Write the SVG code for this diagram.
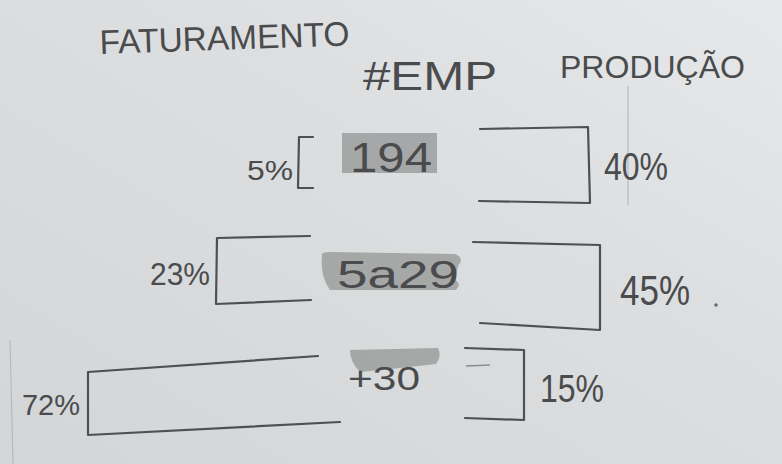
<svg xmlns="http://www.w3.org/2000/svg" width="782" height="464" viewBox="0 0 782 464">
<defs>
<linearGradient id="paper" x1="0" y1="1" x2="1" y2="0">
<stop offset="0" stop-color="#d3d5d7"/>
<stop offset="0.6" stop-color="#dcdee0"/>
<stop offset="1" stop-color="#e6e8ea"/>
</linearGradient>
<style>
.t{font-family:"Liberation Sans","DejaVu Sans",sans-serif;fill:#4a4b4c;}
.p{fill:none;stroke:#4f5052;stroke-width:2.2;stroke-linecap:round;stroke-linejoin:round;}
.f{fill:none;stroke:#b8babc;stroke-width:1.2;}
.hl{fill:#9c9e9e;opacity:0.85;}
</style>
</defs>
<rect width="782" height="464" fill="url(#paper)"/>
<line class="f" x1="628" y1="86" x2="628" y2="205"/>
<line class="f" x1="10" y1="340" x2="13" y2="464"/>

<g id="headers">
<text class="t" x="100" y="54" font-size="34" textLength="250" lengthAdjust="spacingAndGlyphs" transform="rotate(-2 100 54)">FATURAMENTO</text>
<text class="t" x="363" y="90" font-size="40" textLength="134" lengthAdjust="spacingAndGlyphs">#EMP</text>
<text class="t" x="560" y="78" font-size="32" textLength="185" lengthAdjust="spacingAndGlyphs">PRODUÇÃO</text>
</g>

<g id="row1">
<text class="t" x="247" y="180" font-size="28" textLength="46" lengthAdjust="spacingAndGlyphs">5%</text>
<path class="p" d="M313 137 L299 137 L298 188 L313 188"/>
<rect class="hl" x="342" y="133" width="95" height="40"/>
<text class="t" x="350" y="172" font-size="42" textLength="82" lengthAdjust="spacingAndGlyphs">194</text>
<path class="p" d="M480 129 L588 127 L590 203 L479 201"/>
<text class="t" x="604" y="180" font-size="38" textLength="64" lengthAdjust="spacingAndGlyphs">40%</text>
</g>

<g id="row2">
<text class="t" x="150" y="285" font-size="32" textLength="60" lengthAdjust="spacingAndGlyphs">23%</text>
<path class="p" d="M310 236 L217 238 L216 304 L311 300"/>
<path class="hl" d="M322 256 Q320 252 330 252 L455 254 Q465 258 458 266 L455 280 Q462 284 456 290 L330 290 Q320 276 322 256 Z"/>
<text class="t" x="337" y="288" font-size="38" textLength="122" lengthAdjust="spacingAndGlyphs">5a29</text>
<path class="p" d="M473 242 L600 245 L600 330 L480 323"/>
<text class="t" x="620" y="305" font-size="42" textLength="70" lengthAdjust="spacingAndGlyphs">45%</text>
<circle cx="716" cy="305" r="1.8" fill="#6a6b6c"/>
</g>

<g id="row3">
<text class="t" x="22" y="415" font-size="30" textLength="58" lengthAdjust="spacingAndGlyphs">72%</text>
<path class="p" d="M318 356 L88 372 L88 435 L340 422"/>
<path class="hl" d="M350 350 L438 348 Q442 356 436 364 L400 368 L360 372 Q350 362 350 350 Z"/>
<text class="t" x="348" y="390" font-size="34" textLength="72" lengthAdjust="spacingAndGlyphs">+30</text>
<path class="p" d="M465 348 L524 350 L524 420 L465 418"/>
<line x1="466" y1="366" x2="490" y2="365" stroke="#8a8c8e" stroke-width="1.5"/>
<text class="t" x="540" y="402" font-size="38" textLength="64" lengthAdjust="spacingAndGlyphs">15%</text>
</g>
</svg>
